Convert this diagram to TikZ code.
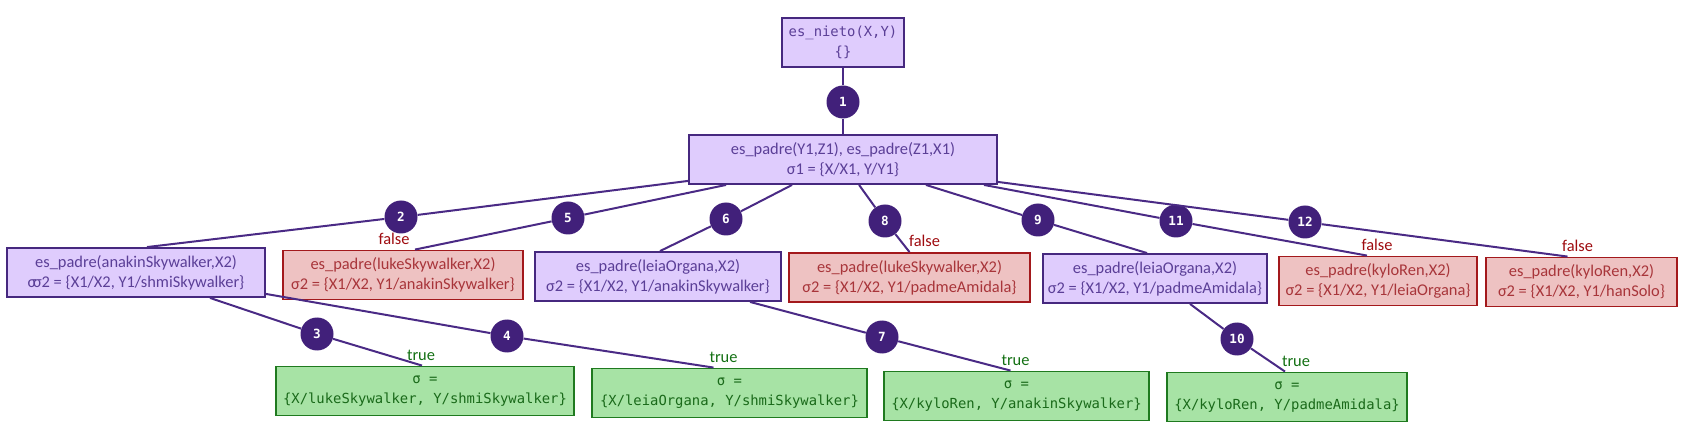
\documentclass[tikz,border=0pt]{standalone}
\usepackage{fontspec}
\newfontfamily\goalfont{Carlito}
\newfontfamily\termfont{DejaVu Sans Mono}
\usetikzlibrary{calc}

\definecolor{goalfill}{HTML}{DFCCFD}
\definecolor{goalline}{HTML}{46287F}
\definecolor{goaltext}{HTML}{5B3F97}
\definecolor{failfill}{HTML}{EEC2C2}
\definecolor{failline}{HTML}{A3191C}
\definecolor{failtext}{HTML}{A8353A}
\definecolor{donefill}{HTML}{A7E3A5}
\definecolor{doneline}{HTML}{1F7A1F}
\definecolor{donetext}{HTML}{1A6A1A}
\definecolor{numfill}{HTML}{41207A}
\definecolor{branchcol}{HTML}{4A2A85}
\definecolor{falsecol}{HTML}{9E0B0F}
\definecolor{truecol}{HTML}{137013}

\begin{document}
\begin{tikzpicture}[x=0.75pt, y=-0.75pt,
    goalbox/.style={draw=goalline, fill=goalfill, text=goaltext, line width=1.4pt,
        minimum height=36.75pt, inner sep=0pt, align=center,
        font=\goalfont\fontsize{12.3}{15}\selectfont},
    failbox/.style={goalbox, draw=failline, fill=failfill, text=failtext},
    donebox/.style={goalbox, draw=doneline, fill=donefill, text=donetext,
        font=\termfont\fontsize{10.4}{15}\selectfont},
    querybox/.style={goalbox, font=\termfont\fontsize{10.4}{15}\selectfont},
    boxwd/.style={minimum width=#1*0.75pt},
    stepnum/.style={circle, fill=numfill, text=white, minimum size=24.75pt, inner sep=0pt,
        font=\termfont\bfseries\fontsize{9.5}{10}\selectfont},
    branch/.style={draw=branchcol, line width=1.5pt},
    falselbl/.style={above=2.8pt, inner sep=1pt, text=falsecol, font=\goalfont\fontsize{12.3}{14}\selectfont},
    truelbl/.style={falselbl, text=truecol}]
    \useasboundingbox (0,0) rectangle (1685,438);

    \node[querybox, boxwd=122] (nieto) at (843,42.5) {es\_nieto(X,Y)\\\{\}};
    \node[goalbox, boxwd=308] (padres) at (843,159.5) {es\_padre(Y1,Z1), es\_padre(Z1,X1)\\σ1 = \{X/X1, Y/Y1\}};

    \node[goalbox, boxwd=258] (pAnakin) at (136,272.5) {es\_padre(anakinSkywalker,X2)\\σ\kern-2.5pt σ2 = \{X1/X2, Y1/shmiSkywalker\}};
    \node[failbox, boxwd=240] (pLukeA) at (403,275) {es\_padre(lukeSkywalker,X2)\\σ2 = \{X1/X2, Y1/anakinSkywalker\}};
    \node[goalbox, boxwd=246] (pLeiaA) at (658,276.5) {es\_padre(leiaOrgana,X2)\\σ2 = \{X1/X2, Y1/anakinSkywalker\}};
    \node[failbox, boxwd=241] (pLukeP) at (909.5,277.5) {es\_padre(lukeSkywalker,X2)\\σ2 = \{X1/X2, Y1/padmeAmidala\}};
    \node[goalbox, boxwd=224] (pLeiaP) at (1155,278.5) {es\_padre(leiaOrgana,X2)\\σ2 = \{X1/X2, Y1/padmeAmidala\}};
    \node[failbox, boxwd=198] (pKyloL) at (1378,281) {es\_padre(kyloRen,X2)\\σ2 = \{X1/X2, Y1/leiaOrgana\}};
    \node[failbox, boxwd=191] (pKyloH) at (1581.5,282) {es\_padre(kyloRen,X2)\\σ2 = \{X1/X2, Y1/hanSolo\}};

    \node[donebox, boxwd=298] (sLuke) at (425,391) {σ =\\\{X/lukeSkywalker, Y/shmiSkywalker\}};
    \node[donebox, boxwd=275] (sLeia) at (729.5,393) {σ =\\\{X/leiaOrgana, Y/shmiSkywalker\}};
    \node[donebox, boxwd=265] (sKyloA) at (1016.5,396) {σ =\\\{X/kyloRen, Y/anakinSkywalker\}};
    \node[donebox, boxwd=240] (sKyloP) at (1287,397) {σ =\\\{X/kyloRen, Y/padmeAmidala\}};

    \foreach \n/\x/\y in {1/843/102, 2/401/217, 3/317/334, 4/507/336, 5/568/218, 6/726/219,
        7/882/337, 8/885/221, 9/1038/220, 10/1237/339, 11/1176/221, 12/1305/222}
        \node[stepnum] (n\n) at (\x,\y) {\n};

    \draw[branch] (nieto) -- (n1) -- (padres);
    \draw[branch] ($(padres.south west)+(0,-4)$) -- (n2) -- ($(pAnakin.north)+(11,0)$);
    \draw[branch] ($(pAnakin.south)+(74,0)$) -- (n3) -- ($(sLuke.north)+(-3,0)$);
    \draw[branch] ($(pAnakin.south east)+(0,-4)$) -- (n4) -- ($(sLeia.north)+(-16,0)$);
    \draw[branch] ($(padres.south west)+(38,0)$) -- (n5) -- ($(pLukeA.north)+(12,0)$);
    \draw[branch] ($(padres.south west)+(104,0)$) -- (n6) -- ($(pLeiaA.north)+(2,0)$);
    \draw[branch] ($(pLeiaA.south)+(92,0)$) -- (n7) -- ($(sKyloA.north)+(-6,0)$);
    \draw[branch] ($(padres.south west)+(171,0)$) -- (n8) -- (pLukeP.north);
    \draw[branch] ($(padres.south east)+(-72,0)$) -- (n9) -- ($(pLeiaP.north)+(-8,0)$);
    \draw[branch] ($(pLeiaP.south)+(35,0)$) -- (n10) -- ($(sKyloP.north)+(-2,0)$);
    \draw[branch] ($(padres.south east)+(-14,0)$) -- (n11) -- ($(pKyloL.north)+(-11,0)$);
    \draw[branch] ($(padres.south east)+(0,-3)$) -- (n12) -- ($(pKyloH.north)+(-14,0)$);

    \node[falselbl] (fLukeA) at ($(pLukeA.north)+(-9,0)$) {false};
    \node[falselbl] (fLukeP) at ($(pLukeP.north)+(15,0)$) {false};
    \node[falselbl] (fKyloL) at ($(pKyloL.north)+(-1,0)$) {false};
    \node[falselbl] (fKyloH) at ($(pKyloH.north)+(-4,0)$) {false};
    \node[truelbl] (tLuke) at ($(sLuke.north)+(-4,0)$) {true};
    \node[truelbl] (tLeia) at ($(sLeia.north)+(-6,0)$) {true};
    \node[truelbl] (tKyloA) at ($(sKyloA.north)+(-1,0)$) {true};
    \node[truelbl] (tKyloP) at ($(sKyloP.north)+(9,0)$) {true};
\end{tikzpicture}
\end{document}
